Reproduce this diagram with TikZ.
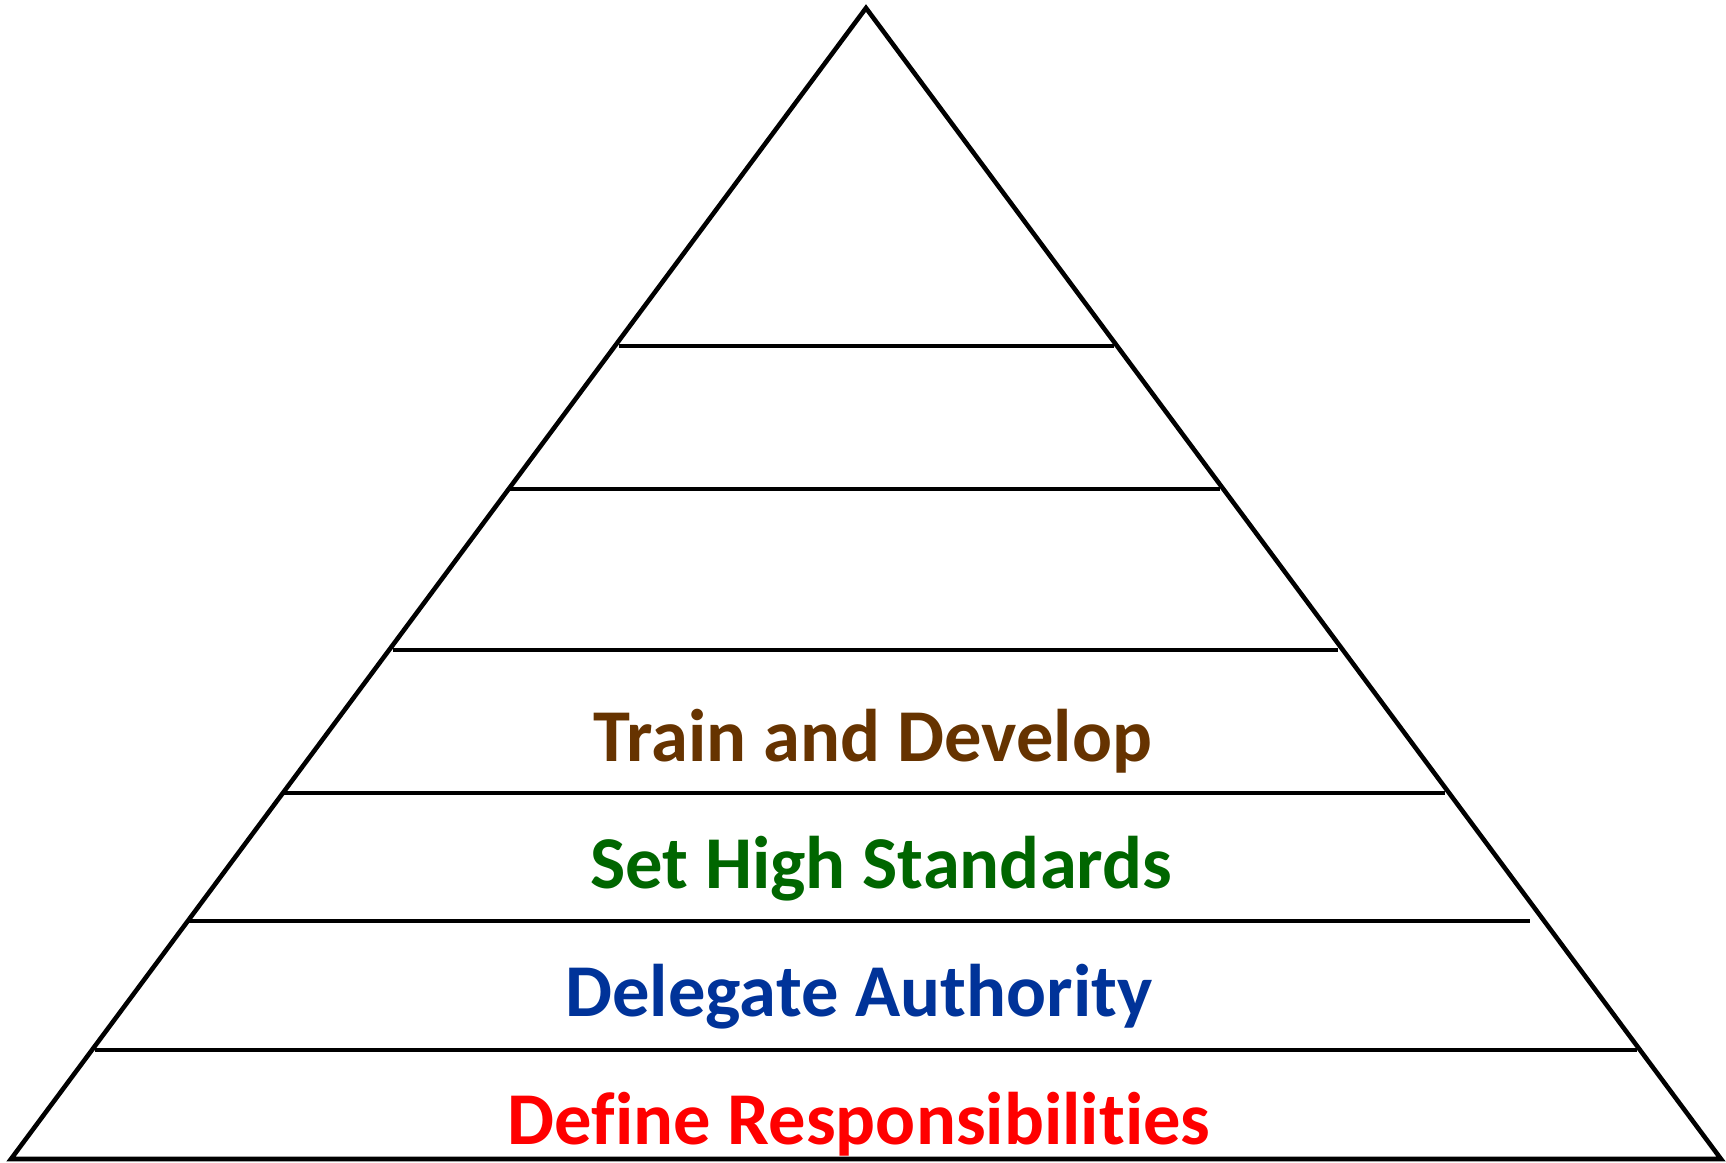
\documentclass[tikz,border=0pt]{standalone}
\usepackage{fontspec}
\setmainfont{Carlito}[Ligatures=NoCommon]
\usepackage{tikz}
\usetikzlibrary{calc}
\definecolor{TrainBrown}{RGB}{102, 51, 0}
\definecolor{SetGreen}{RGB}{0, 102, 0}
\definecolor{DelegateBlue}{RGB}{0, 51, 153}
\definecolor{DefineRed}{RGB}{255, 0, 0}
\tikzset{
    level/.style={font=\bfseries\fontsize{21.2}{25}\selectfont, anchor=base},
    divider/.style={line width=1pt}
}

\begin{document}
\begin{tikzpicture}[x=0.01cm, y=-0.01cm]
    \useasboundingbox (0,0) rectangle (1726,1162);
    %%Pyramid outline
    \coordinate (apex) at (866,8);
    \coordinate (baseL) at (11,1159);
    \coordinate (baseR) at (1721,1159);
    \draw[line width=1.3pt, line join=miter] (apex) to (baseR) to (baseL) -- cycle;
    %%Levels
    \draw[divider]
    (619,346) to (1114,346)
    (510,489) to (1220,489)
    (393,650) to (1338,650)
    (284,793) to (1445,793)
    (189,921) to (1530,921)
    (95,1050) to (1637,1050)
    ;
    %%Labels
    \node[level, text=TrainBrown] (train) at (873,761) {Train and Develop};
    \node[level, text=SetGreen] (standards) at (881,888) {Set High Standards};
    \node[level, text=DelegateBlue] (delegate) at (859,1016) {Delegate Authority};
    \node[level, text=DefineRed] (define) at (859,1144) {Define Responsibilities};
\end{tikzpicture}
\end{document}
